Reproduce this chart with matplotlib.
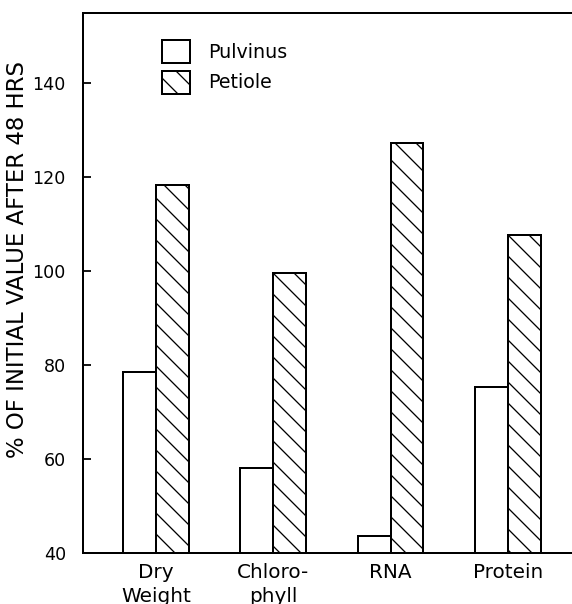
"""
Pulvinus vs petiole: % of initial value after 48 hrs
"""

import matplotlib

matplotlib.use("Agg")
import matplotlib.pyplot as plt
import numpy as np

categories = ["Dry\nWeight", "Chloro-\nphyll", "RNA", "Protein"]
pulvinus = [78.5, 58.2, 43.6, 75.4]
petiole = [118.3, 99.7, 127.3, 107.8]
yticks = [40, 60, 80, 100, 120, 140]

# low dpi so the hatch spacing comes out close to the scan
DPI = 63
P = 72 / DPI  # points per pixel

plt.rcParams["font.family"] = ["DejaVu Sans"]
plt.rcParams["hatch.linewidth"] = 1.3 * P
plt.rcParams["hatch.color"] = "black"

fig = plt.figure(figsize=(572 / DPI, 604 / DPI), dpi=DPI)
ax = fig.add_axes([83 / 572, 1 - 553 / 604, 489 / 572, 540 / 604])

x = np.arange(len(categories))
width = 0.28

ax.bar(x - width / 2, pulvinus, width, color="white",
       edgecolor="black", linewidth=2 * P, label="Pulvinus")
ax.bar(x + width / 2, petiole, width, color="white", edgecolor="black",
       linewidth=2 * P, hatch="\\", label="Petiole")

ax.set_xlim(-0.622, 3.546)
ax.set_ylim(40, 155)

ax.set_yticks(yticks)
ax.set_xticks(x)
ax.set_xticklabels(categories, fontsize=20 * P, linespacing=1.3)
ax.tick_params(axis="x", length=0, pad=10 * P)
ax.tick_params(axis="y", direction="in", length=8 * P, width=1.8 * P,
               labelsize=17.5 * P, pad=17 * P)

for side in ["left", "bottom", "top"]:
    ax.spines[side].set_linewidth(2 * P)
ax.spines["right"].set_visible(False)

ax.set_ylabel("% OF INITIAL VALUE AFTER 48 HRS", fontsize=22.7 * P)
ax.yaxis.set_label_coords(-0.11, 0.543)

ax.legend(loc="upper left", bbox_to_anchor=(0.1616, 0.95), frameon=False,
          fontsize=19 * P, handlelength=1.47, handleheight=1.47,
          handletextpad=0.95, labelspacing=0.42, borderpad=0,
          borderaxespad=0)

fig.savefig("out.png", dpi=DPI)
